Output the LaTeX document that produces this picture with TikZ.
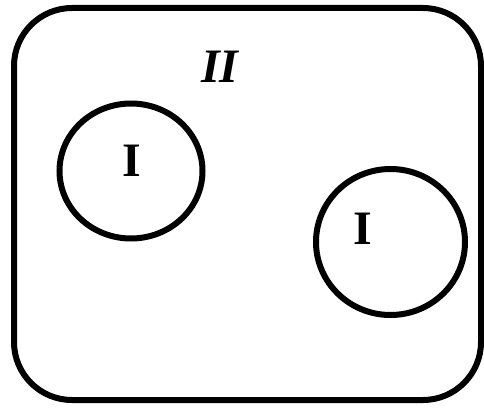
\documentclass[tikz,border=0pt]{standalone}
\usepackage{fontspec}
\setmainfont{Liberation Serif}
\usetikzlibrary{shapes.geometric}
\begin{document}
\begin{tikzpicture}[x=1pt,y=1pt,
  outline/.style={draw=black,line width=6pt},
  lbl/.style={inner sep=0pt,font=\fontsize{48}{52}\selectfont\bfseries}]
\useasboundingbox (0,0) rectangle (484,408);
\draw[outline,rounded corners=58pt] (14,8) rectangle (481,400);
\node[outline,ellipse,minimum width=143pt,minimum height=135pt,inner sep=0pt] (c1) at (131,237) {};
\node[outline,ellipse,minimum width=149pt,minimum height=146pt,inner sep=0pt] (c2) at (390.5,166) {};
\node[lbl] (t1) at (131.5,247) {I};
\node[lbl] (t2) at (363,179.5) {I};
\node[lbl,font=\fontsize{48}{52}\selectfont\bfseries\itshape] (t3) at (220,341) {II};
\end{tikzpicture}
\end{document}
